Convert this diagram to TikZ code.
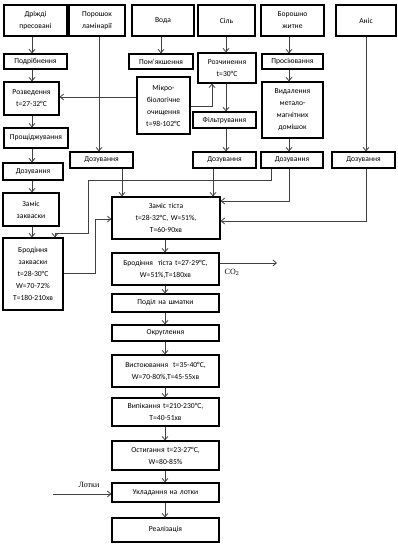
\documentclass[tikz,border=0pt]{standalone}
\usepackage{fontspec}
\setmainfont{Carlito}
\newfontfamily\serifb{Liberation Serif}
\usetikzlibrary{arrows.meta}
\tikzset{
  box/.style={draw=black, line width=1.2pt, inner sep=0pt, align=center,
    font=\fontsize{7.6}{12}\selectfont},
  conn/.style={draw=black!75, line width=0.8pt},
  arr/.style={conn, -{Straight Barb[length=3.5pt,width=6pt]}},
}
\newcommand\mkbox[6]{%
  \node[box, minimum width={(#4-#2)*1pt}, minimum height={(#5-#3)*1pt}, text width={(#4-#2-2)*1pt}]
    (#1) at ({(#2+#4)/2},{(#3+#5)/2}) {#6};}
\begin{document}
\begin{tikzpicture}[x=1pt,y=-1pt]
\useasboundingbox (0,0) rectangle (397,545);
% top row
\mkbox{d1}{4}{5}{67}{36}{Дріжді\\пресовані}
\mkbox{p1}{69}{5}{125}{36}{Порошок\\ламінарії}
\mkbox{v1}{132}{5}{194}{36}{Вода}
\mkbox{s1}{198}{5}{255}{36}{Сіль}
\mkbox{b1}{261}{5}{324}{36}{Борошно\\житне}
\mkbox{a1}{336}{5}{396}{36}{Аніс}
% row 2
\mkbox{d2}{4}{54}{67}{69}{Подрібнення}
\mkbox{v2}{129}{54}{193}{69}{Пом’якшення}
\mkbox{s2}{198}{53}{256}{83}{Розчинення\\t=30°C}
\mkbox{b2}{262}{54}{323}{69}{Просіювання}
% row 3
\mkbox{d3}{4}{82}{59}{115}{Розведення\\t=27-32°C}
\mkbox{v3}{137}{77}{190}{134}{Мікро-\\біологічне\\очищення\\t=98-102°C}
\mkbox{s3}{193}{112}{256}{128}{Фільтрування}
\mkbox{b3}{262}{82}{323}{138}{Видалення\\метало-\\магнітних\\домішок}
% left column
\mkbox{d4}{4}{128}{68}{148}{Прощіджування}
\mkbox{d5}{3}{163}{63}{180}{Дозування}
\mkbox{d6}{3}{193}{59}{226}{Заміс\\закваски}
\mkbox{d7}{3}{238}{63}{310}{Бродіння\\закваски\\t=28-30°C\\W=70-72\%\\T=180-210хв}
% dosing row
\mkbox{p2}{70}{152}{133}{168}{Дозування}
\mkbox{s4}{193}{152}{256}{168}{Дозування}
\mkbox{b4}{261}{152}{323}{168}{Дозування}
\mkbox{a2}{332}{152}{395}{168}{Дозування}
% main column
\mkbox{m1}{112}{197}{220}{239}{Заміс тіста\\t=28-32°C, W=51\%,\\T=60-90хв}
\mkbox{m2}{112}{253}{219}{285}{Бродіння\ \ тіста t=27-29°C,\\W=51\%,T=180хв}
\mkbox{m3}{112}{294}{219}{312}{Поділ на шматки}
\mkbox{m4}{112}{325}{219}{341}{Округлення}
\mkbox{m5}{112}{355}{219}{387}{Вистоювання\ \ t=35-40°C,\\W=70-80\%,T=45-55хв}
\mkbox{m6}{112}{398}{219}{426}{Випікання t=210-230°C,\\T=40-51хв}
\mkbox{m7}{112}{441}{219}{470}{Остигання t=23-27°C,\\W=80-85\%}
\mkbox{m8}{112}{483}{219}{502}{Укладання на лотки}
\mkbox{m9}{112}{518}{219}{542}{Реалізація}
% left chain
\foreach \a/\b in {d1/d2,d2/d3,d3/d4,d4/d5,d5/d6,d6/d7}
  \draw[arr] (\a.south -| 32,0) -- (\b.north -| 32,0);
% main chain
\foreach \a/\b in {m1/m2,m2/m3,m3/m4,m4/m5,m5/m6,m6/m7,m7/m8,m8/m9}
  \draw[arr] (\a.south -| 165,0) -- (\b.north -| 165,0);
% columns
\draw[arr] (v1.south -| 161,0) -- (v2.north -| 161,0);
\draw[arr] (s1.south -| 226,0) -- (s2.north -| 226,0);
\draw[arr] (s2.south -| 226,0) -- (s3.north -| 226,0);
\draw[arr] (s3.south -| 226,0) -- (s4.north -| 226,0);
\draw[arr] (b1.south -| 289,0) -- (b2.north -| 289,0);
\draw[arr] (b2.south -| 289,0) -- (b3.north -| 289,0);
\draw[arr] (b3.south -| 289,0) -- (b4.north -| 289,0);
\draw[arr] (a1.south -| 366,0) -- (a2.north -| 366,0);
\draw[arr] (p1.south -| 99,0) -- (p2.north -| 99,0);
% micro-biological cleaning
\draw[arr] (v3.west |- 0,97) -- (d3.east |- 0,97);
\coordinate (vb) at (212,106);
\draw[arr] (v3.east |- vb) -- (vb) -- (s2.south -| vb);
% dosing to kneading
\draw[arr] (p2.south -| 122,0) -- (m1.north -| 122,0);
\draw[arr] (s4.south -| 213,0) -- (m1.north -| 213,0);
\coordinate (f1) at (271,180);
\coordinate (f2) at (88,180);
\coordinate (f3) at (88,233);
\coordinate (f4) at (55,233);
\draw[arr] (b4.south -| f1) -- (f1) -- (f2) -- (f3) -- (f4) -- (d7.north -| f4);
\coordinate (g1) at (289,201);
\draw[arr] (b4.south -| g1) -- (g1) -- (m1.east |- g1);
\coordinate (h1) at (366,221);
\draw[arr] (a2.south -| h1) -- (h1) -- (m1.east |- h1);
\coordinate (k1) at (95,273);
\coordinate (k2) at (95,219);
\draw[arr] (d7.east |- k1) -- (k1) -- (k2) -- (m1.west |- k2);
% CO2
\coordinate (co) at (277,263);
\draw[arr] (m2.east |- co) -- (co);
\node[font=\serifb\fontsize{8}{9}\selectfont, inner sep=0pt] (colab) at (232,272) {CO\textsubscript{2}};
% trays
\coordinate (lt) at (53,494);
\draw[arr] (lt) -- (m8.west |- lt);
\node[font=\serifb\fontsize{8}{9}\selectfont, inner sep=0pt] (ltlab) at (89,485) {Лотки};
\end{tikzpicture}
\end{document}
